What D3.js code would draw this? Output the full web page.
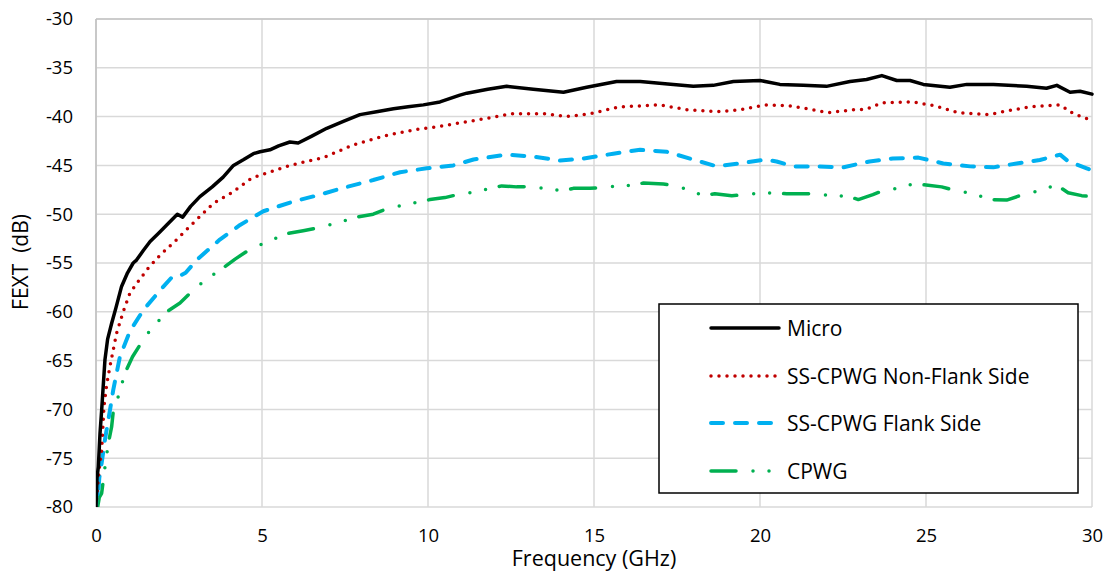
<!DOCTYPE html>
<html>
<head>
<meta charset="utf-8">
<script src="https://cdn.jsdelivr.net/npm/d3@7"></script>
<style>
  body { margin: 0; background: #fff; overflow: hidden; }
  svg { display: block; font-family: "Open Sans", Lato, sans-serif; }
</style>
</head>
<body>
<div id="chart"></div>
<script>
// values: [frequency GHz, FEXT dB]
const micro = [[0,-80],[0.03,-77],[0.07,-75.9],[0.12,-72.5],[0.17,-70.1],[0.27,-64.9],[0.35,-62.8],[0.47,-61.2],[0.6,-59.6],[0.77,-57.4],[0.95,-56.0],[1.12,-55.0],[1.22,-54.7],[1.43,-53.7],[1.63,-52.8],[1.9,-51.9],[2.13,-51.1],[2.45,-50.0],[2.61,-50.3],[2.85,-49.2],[3.13,-48.2],[3.5,-47.2],[3.83,-46.2],[4.14,-45.0],[4.45,-44.4],[4.74,-43.8],[4.94,-43.6],[5.24,-43.4],[5.5,-43.0],[5.84,-42.6],[6.09,-42.7],[6.5,-42.0],[6.95,-41.2],[7.45,-40.5],[7.95,-39.8],[8.45,-39.5],[8.96,-39.2],[9.4,-39.0],[9.86,-38.8],[10.36,-38.5],[10.96,-37.8],[11.17,-37.6],[11.8,-37.2],[12.37,-36.9],[13.17,-37.2],[14.08,-37.5],[14.78,-37.0],[15.68,-36.4],[16.39,-36.4],[17.39,-36.7],[17.99,-36.9],[18.59,-36.8],[19.2,-36.4],[20.0,-36.3],[20.6,-36.7],[21.3,-36.8],[22.0,-36.9],[22.71,-36.4],[23.21,-36.2],[23.67,-35.8],[24.12,-36.3],[24.52,-36.3],[24.92,-36.7],[25.72,-37.0],[26.23,-36.7],[27.03,-36.7],[28.03,-36.9],[28.63,-37.1],[28.94,-36.8],[29.34,-37.5],[29.64,-37.4],[30,-37.7]];

const nonFlank = [[0,-80],[0.05,-77.8],[0.1,-76],[0.17,-74.2],[0.24,-69.7],[0.32,-67.5],[0.42,-65.6],[0.62,-62.2],[0.82,-60.0],[1.02,-58.1],[1.27,-56.9],[1.58,-55.5],[1.93,-54.2],[2.43,-52.6],[2.93,-50.9],[3.53,-48.9],[4.09,-47.8],[4.69,-46.3],[5.14,-45.8],[5.84,-45.0],[6.85,-44.2],[7.75,-42.9],[8.65,-42.0],[9.66,-41.3],[10.36,-41.0],[10.86,-40.7],[11.57,-40.3],[12.52,-39.7],[13.47,-39.7],[14.17,-40.0],[14.88,-39.7],[15.78,-39.0],[16.99,-38.8],[17.79,-39.3],[18.7,-39.5],[19.4,-39.3],[20.15,-38.8],[20.9,-38.9],[21.6,-39.3],[22.06,-39.6],[22.8,-39.3],[23.2,-39.25],[23.67,-38.6],[24.62,-38.5],[25.27,-38.9],[25.97,-39.6],[26.88,-39.8],[27.48,-39.4],[28.13,-39.0],[29.04,-38.8],[29.44,-39.7],[29.84,-40.2],[30,-40.45]];

const flank = [[0,-80],[0.03,-77.5],[0.06,-79],[0.1,-77],[0.17,-75.5],[0.27,-73.1],[0.42,-70.1],[0.52,-68.0],[0.72,-64.6],[1.02,-62.0],[1.43,-59.8],[1.93,-57.8],[2.3,-56.4],[2.53,-56.3],[2.7,-56.0],[3.03,-54.7],[3.73,-52.6],[4.34,-51.1],[5.04,-49.7],[5.94,-48.7],[6.75,-48.0],[7.45,-47.3],[8.35,-46.5],[9.16,-45.7],[9.96,-45.3],[10.76,-45.0],[11.37,-44.4],[12.37,-43.9],[13.17,-44.1],[13.98,-44.5],[14.68,-44.3],[15.58,-43.8],[16.39,-43.4],[17.19,-43.6],[17.89,-44.3],[18.7,-45.1],[19.4,-44.8],[20.15,-44.4],[20.5,-44.6],[21.0,-45.1],[21.76,-45.1],[22.5,-45.2],[23.3,-44.6],[24.0,-44.3],[24.77,-44.2],[25.52,-44.8],[26.33,-45.1],[27.03,-45.2],[27.73,-44.8],[28.43,-44.45],[29.04,-43.9],[29.29,-44.6],[29.84,-45.3],[30,-45.5]];

const cpwg = [[0,-80],[0.05,-80],[0.1,-79],[0.17,-78.6],[0.27,-75.9],[0.37,-73.5],[0.47,-71.8],[0.52,-70.2],[0.67,-68.7],[0.87,-66.3],[1.1,-64.6],[1.36,-63.2],[1.63,-61.9],[2.13,-60.0],[2.53,-59.1],[2.83,-58.1],[3.23,-56.9],[3.83,-55.5],[4.19,-54.6],[4.59,-53.7],[5.04,-53.0],[5.74,-52.0],[6.24,-51.7],[6.7,-51.4],[7.25,-50.9],[7.85,-50.3],[8.35,-50.0],[8.8,-49.4],[9.36,-49.0],[10.06,-48.5],[10.51,-48.3],[11.01,-47.9],[11.47,-47.7],[11.87,-47.35],[12.22,-47.1],[12.67,-47.2],[13.17,-47.2],[13.67,-47.45],[14.08,-47.6],[14.38,-47.35],[14.88,-47.35],[15.38,-47.25],[15.83,-47.0],[16.14,-47.1],[16.49,-46.8],[17.09,-46.9],[17.49,-47.1],[17.99,-47.7],[18.29,-48.1],[18.64,-47.9],[19.15,-48.1],[19.6,-48.0],[20.1,-47.8],[20.8,-47.9],[21.76,-47.9],[22.2,-48.2],[22.6,-48.1],[22.96,-48.5],[23.4,-48.0],[23.8,-47.45],[24.2,-47.35],[24.6,-46.9],[25.0,-47.0],[25.47,-47.2],[25.92,-47.6],[26.42,-47.9],[26.93,-48.5],[27.43,-48.55],[27.83,-48.1],[28.28,-47.7],[28.63,-47.35],[28.93,-47.0],[29.28,-47.8],[29.69,-48.1],[30,-48.2]];

const seriesNames = ["Micro", "SS-CPWG Non-Flank Side", "SS-CPWG Flank Side", "CPWG"];
const xTicks = [0, 5, 10, 15, 20, 25, 30];
const yTicks = [-30, -35, -40, -45, -50, -55, -60, -65, -70, -75, -80];

const width = 1109, height = 573;
const margin = { top: 19, right: 17, bottom: 66, left: 96 };
const innerWidth = width - margin.left - margin.right;
const innerHeight = height - margin.top - margin.bottom;

const svg = d3.select("#chart").append("svg")
  .attr("width", width)
  .attr("height", height);

const plot = svg.append("g")
  .attr("transform", `translate(${margin.left},${margin.top})`);

const x = d3.scaleLinear().domain([0, 30]).range([0, innerWidth]);
const y = d3.scaleLinear().domain([-80, -30]).range([innerHeight, 0]);

// grid
plot.append("g").selectAll("line")
  .data(xTicks).join("line")
  .attr("x1", d => x(d)).attr("x2", d => x(d))
  .attr("y1", 0).attr("y2", innerHeight)
  .attr("stroke", "#d9d9d9").attr("stroke-width", 1.5);
plot.append("g").selectAll("line")
  .data(yTicks).join("line")
  .attr("x1", 0).attr("x2", innerWidth)
  .attr("y1", d => y(d)).attr("y2", d => y(d))
  .attr("stroke", "#d9d9d9").attr("stroke-width", 1.5);
plot.append("line")
  .attr("x1", 0).attr("x2", innerWidth).attr("y1", 0).attr("y2", 0)
  .attr("stroke", "#c4c4c4").attr("stroke-width", 1.5);
plot.append("line")
  .attr("x1", 0).attr("x2", 0).attr("y1", 0).attr("y2", innerHeight)
  .attr("stroke", "#bfbfbf").attr("stroke-width", 1.5);

// axes (labels only)
const xAxis = plot.append("g")
  .attr("transform", `translate(0,${innerHeight})`)
  .call(d3.axisBottom(x).tickValues(xTicks).tickFormat(d => String(d)).tickSize(0).tickPadding(22));
const yAxis = plot.append("g")
  .call(d3.axisLeft(y).tickValues(yTicks).tickFormat(d => String(d)).tickSize(0).tickPadding(23));
[xAxis, yAxis].forEach(a => {
  a.select(".domain").remove();
  a.selectAll("text").attr("font-size", 18.5).attr("fill", "#000")
    .attr("font-family", "'Open Sans', Lato, sans-serif");
});

svg.append("text")
  .attr("x", margin.left + innerWidth / 2).attr("y", 566)
  .attr("text-anchor", "middle").attr("font-size", 21.5)
  .text("Frequency (GHz)");
svg.append("text")
  .attr("transform", `translate(28,${margin.top + innerHeight / 2 - 1}) rotate(-90)`)
  .attr("text-anchor", "middle").attr("font-size", 21)
  .attr("xml:space", "preserve")
  .text("FEXT  (dB)");

// series
const styles = [
  { data: micro, color: "#000000", width: 3.5, dash: null, cap: "round" },
  { data: nonFlank, color: "#c00000", width: 3.5, dash: "0,8", cap: "round" },
  { data: flank, color: "#00b0f0", width: 4, dash: "12,12", cap: "round" },
  { data: cpwg, color: "#00b050", width: 3.5, dash: "25,17,0,16,0,14", cap: "round" }
];

svg.append("clipPath").attr("id", "clip")
  .append("rect").attr("x", 0).attr("y", -2).attr("width", innerWidth + 2).attr("height", innerHeight + 2);

const line = d3.line()
  .x(d => x(d[0]))
  .y(d => y(d[1]));

const lines = plot.append("g").attr("clip-path", "url(#clip)");
styles.slice().reverse().forEach(s => {
  lines.append("path")
    .datum(s.data)
    .attr("fill", "none")
    .attr("stroke", s.color)
    .attr("stroke-width", s.width)
    .attr("stroke-linecap", s.cap)
    .attr("stroke-linejoin", "round")
    .attr("stroke-dasharray", s.dash)
    .attr("d", line);
});

// legend
const legend = svg.append("g").attr("transform", "translate(659,304)");
legend.append("rect")
  .attr("width", 419).attr("height", 189)
  .attr("fill", "#fff").attr("stroke", "#000").attr("stroke-width", 1.5);
const rowY = [24, 72, 119, 167];
styles.forEach((s, i) => {
  legend.append("line")
    .attr("x1", 52).attr("x2", 120)
    .attr("y1", rowY[i]).attr("y2", rowY[i])
    .attr("stroke", s.color)
    .attr("stroke-width", s.width)
    .attr("stroke-linecap", s.cap)
    .attr("stroke-dasharray", s.dash);
  legend.append("text")
    .attr("x", 128).attr("y", rowY[i])
    .attr("dy", "0.36em")
    .attr("font-size", 21)
    .text(seriesNames[i]);
});
</script>
</body>
</html>
